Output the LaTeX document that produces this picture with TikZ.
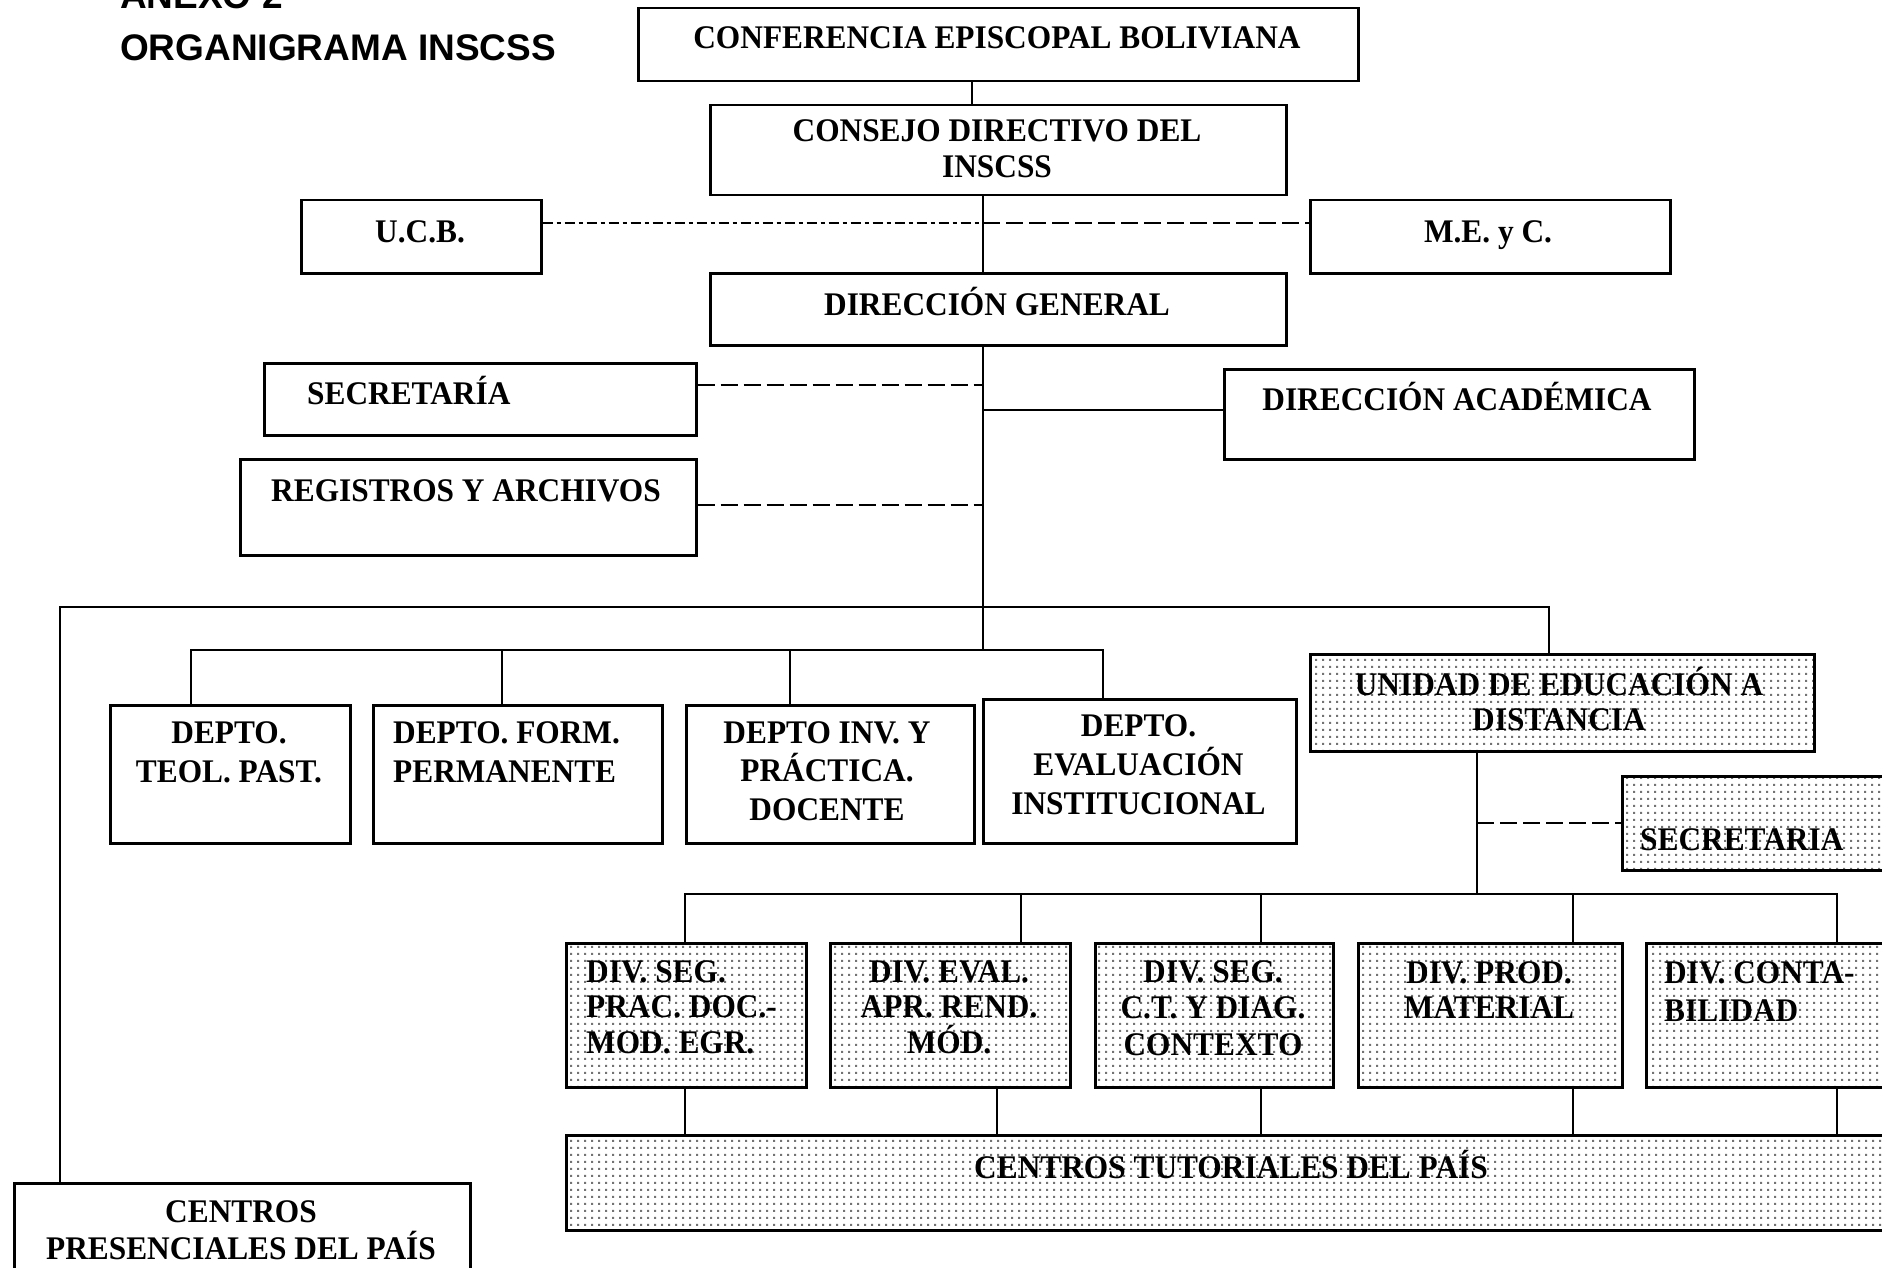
\documentclass[tikz,border=0pt]{standalone}
\usepackage{fontspec}
\newfontfamily\tnr[FakeStretch=0.95]{Liberation Serif}
\newfontfamily\arl{Liberation Sans}
\usetikzlibrary{patterns}
\pgfdeclarepatternformonly{sdots}{\pgfpointorigin}{\pgfpoint{6.6pt}{6.6pt}}{\pgfpoint{6.6pt}{6.6pt}}{\pgfpathrectangle{\pgfpoint{2.3pt}{2.3pt}}{\pgfpoint{2pt}{2pt}}\pgfusepath{fill}}
\newcommand{\mlc}[1]{\begin{tabular}[t]{@{}c@{}}#1\end{tabular}}
\newcommand{\mll}[1]{\begin{tabular}[t]{@{}l@{}}#1\end{tabular}}
\begin{document}
\begin{tikzpicture}[x=1pt,y=-1pt,
  box/.style={draw,line width=2.5pt,inner sep=0pt,anchor=north west},
  dotbox/.style={box,pattern=sdots,pattern color=black!55},
  lbl/.style={inner sep=0pt,anchor=base,font=\tnr\bfseries\fontsize{33}{#1}\selectfont},
  lbl/.default=37,
  conn/.style={line width=2pt},
  dsh/.style={conn,dash pattern=on 17pt off 6pt},
  dshdot/.style={conn,dash pattern=on 10pt off 4pt on 4pt off 4pt}]
\useasboundingbox (0,0) rectangle (1882,1268);

% title
\node[inner sep=0pt,anchor=base west,font=\arl\bfseries\fontsize{37}{52}\selectfont] (title) at (120,9) {\mll{ANEXO 2\\ORGANIGRAMA INSCSS}};

% boxes
\node[box,minimum width=720pt,minimum height=73pt] (conf) at (637,7) {};
\node[box,minimum width=576pt,minimum height=90pt] (consejo) at (709,104) {};
\node[box,minimum width=240pt,minimum height=73pt] (ucb) at (300,199) {};
\node[box,minimum width=360pt,minimum height=73pt] (mec) at (1309,199) {};
\node[box,minimum width=576pt,minimum height=72pt] (dg) at (709,272) {};
\node[box,minimum width=432pt,minimum height=72pt] (secr) at (263,362) {};
\node[box,minimum width=456pt,minimum height=96pt] (reg) at (239,458) {};
\node[box,minimum width=470pt,minimum height=90pt] (dacad) at (1223,368) {};
\node[box,minimum width=240pt,minimum height=138pt] (teol) at (109,704) {};
\node[box,minimum width=289pt,minimum height=138pt] (form) at (372,704) {};
\node[box,minimum width=288pt,minimum height=138pt] (inv) at (685,704) {};
\node[box,minimum width=313pt,minimum height=144pt] (evali) at (982,698) {};
\node[dotbox,minimum width=504pt,minimum height=97pt] (ued) at (1309,653) {};
\node[dotbox,minimum width=280pt,minimum height=94pt] (secu) at (1621,775) {};
\node[dotbox,minimum width=240pt,minimum height=144pt] (div1) at (565,942) {};
\node[dotbox,minimum width=240pt,minimum height=144pt] (div2) at (829,942) {};
\node[dotbox,minimum width=238pt,minimum height=144pt] (div3) at (1094,942) {};
\node[dotbox,minimum width=264pt,minimum height=144pt] (div4) at (1357,942) {};
\node[dotbox,minimum width=256pt,minimum height=144pt] (div5) at (1645,942) {};
\node[dotbox,minimum width=1336pt,minimum height=95pt] (ctut) at (565,1134) {};
\node[box,minimum width=456pt,minimum height=110pt] (cpres) at (13,1182) {};

% labels
\node[lbl] (tconf) at (997,48.5) {CONFERENCIA EPISCOPAL BOLIVIANA};
\node[lbl=36] (tconsejo) at (997,142) {\mlc{CONSEJO DIRECTIVO DEL\\INSCSS}};
\node[lbl] (tucb) at (420,243) {U.C.B.};
\node[lbl] (tmec) at (1488,243) {M.E. y C.};
\node[lbl] (tdg) at (997,315) {DIRECCIÓN GENERAL};
\node[lbl,anchor=base west] (tsecr) at (307,404) {SECRETARÍA};
\node[lbl] (treg) at (466,501) {REGISTROS Y ARCHIVOS};
\node[lbl] (tdacad) at (1457,410) {DIRECCIÓN ACADÉMICA};
\node[lbl=39] (tteol) at (229,743) {\mlc{DEPTO.\\TEOL. PAST.}};
\node[lbl=39,anchor=base west] (tform) at (393,743) {\mll{DEPTO. FORM.\\PERMANENTE}};
\node[lbl=38.5] (tinv) at (827,743) {\mlc{DEPTO INV. Y\\\smash{PRÁCTICA.}\\DOCENTE}};
\node[lbl=39] (tevali) at (1138.5,736) {\mlc{DEPTO.\\\smash{EVALUACIÓN}\\INSTITUCIONAL}};
\node[lbl=35] (tued) at (1559,695) {\mlc{UNIDAD DE EDUCACIÓN A\\DISTANCIA}};
\node[lbl,anchor=base west] (tsecu) at (1640,850) {SECRETARIA};
\node[lbl=35.5,anchor=base west] (tdiv1) at (586,982) {\mll{DIV. SEG.\\PRAC. DOC.-\\MOD. EGR.}};
\node[lbl=35.5] (tdiv2) at (949,982) {\mlc{DIV. EVAL.\\APR. REND.\\\smash{MÓD.}}};
\node[lbl=36.5] (tdiv3) at (1213,982) {\mlc{DIV. SEG.\\C.T. Y DIAG.\\CONTEXTO}};
\node[lbl=35] (tdiv4) at (1489,983) {\mlc{DIV. PROD.\\MATERIAL}};
\node[lbl=38,anchor=base west] (tdiv5) at (1664,983) {\mll{DIV. CONTA-\\BILIDAD}};
\node[lbl,anchor=base west] (tctut) at (974,1178) {CENTROS TUTORIALES DEL PAÍS};
\node[lbl=37] (tcpres) at (241,1222) {\mlc{CENTROS\\\smash{PRESENCIALES DEL PAÍS}}};

% helper coordinates
\coordinate (xa) at (972,0);
\coordinate (xm) at (983,0);
\coordinate (xl) at (60,0);
\coordinate (xr) at (1549,0);
\coordinate (xu) at (1477,0);
\coordinate (lk) at (983,223);
\coordinate (ys) at (0,385);
\coordinate (yr) at (0,505);
\coordinate (yd) at (0,410);
\coordinate (yb) at (0,607);
\coordinate (ydep) at (0,650);
\coordinate (yus) at (0,823);
\coordinate (ydiv) at (0,894);
\coordinate (d1) at (191,0);
\coordinate (d2) at (502,0);
\coordinate (d3) at (790,0);
\coordinate (d4) at (1103,0);
\coordinate (v1) at (685,0);
\coordinate (v2) at (1021,0);
\coordinate (w2) at (997,0);
\coordinate (v3) at (1261,0);
\coordinate (v4) at (1573,0);
\coordinate (v5) at (1837,0);

% connectors
\draw[conn] (conf.south -| xa) -- (consejo.north -| xa);
\draw[conn] (consejo.south -| xm) -- (dg.north -| xm);
\draw[dshdot] (ucb.east |- lk) -- (lk);
\draw[dsh] (lk) -- (mec.west |- lk);
\draw[conn] (dg.south -| xm) -- (xm |- ydep);
\draw[dsh] (secr.east |- ys) -- (xm |- ys);
\draw[dsh] (reg.east |- yr) -- (xm |- yr);
\draw[conn] (xm |- yd) -- (dacad.west |- yd);
\draw[conn] (cpres.north -| xl) -- (xl |- yb) -- (xr |- yb) -- (ued.north -| xr);
\draw[conn] (teol.north -| d1) -- (d1 |- ydep) -- (d4 |- ydep) -- (evali.north -| d4);
\draw[conn] (form.north -| d2) -- (d2 |- ydep);
\draw[conn] (inv.north -| d3) -- (d3 |- ydep);
\draw[conn] (ued.south -| xu) -- (xu |- ydiv);
\draw[dsh] (xu |- yus) -- (secu.west |- yus);
\draw[conn] (div1.north -| v1) -- (v1 |- ydiv) -- (v5 |- ydiv) -- (div5.north -| v5);
\draw[conn] (div2.north -| v2) -- (v2 |- ydiv);
\draw[conn] (div3.north -| v3) -- (v3 |- ydiv);
\draw[conn] (div4.north -| v4) -- (v4 |- ydiv);
\draw[conn] (div1.south -| v1) -- (ctut.north -| v1);
\draw[conn] (div2.south -| w2) -- (ctut.north -| w2);
\draw[conn] (div3.south -| v3) -- (ctut.north -| v3);
\draw[conn] (div4.south -| v4) -- (ctut.north -| v4);
\draw[conn] (div5.south -| v5) -- (ctut.north -| v5);
\end{tikzpicture}
\end{document}
